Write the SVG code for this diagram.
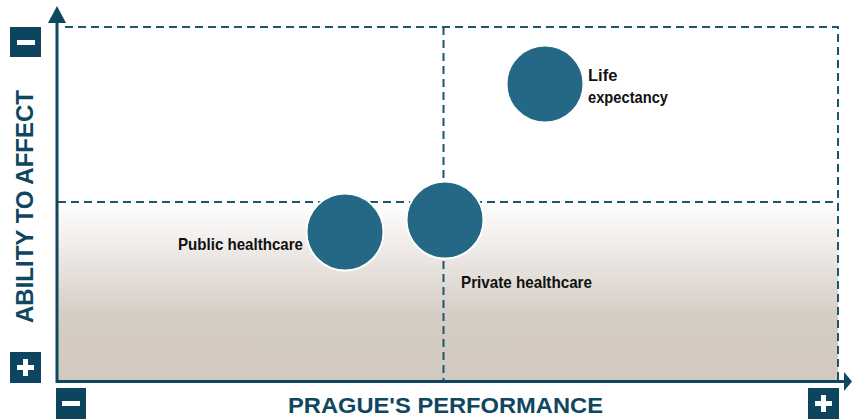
<svg xmlns="http://www.w3.org/2000/svg" width="852" height="419" viewBox="0 0 852 419">
<defs>
<linearGradient id="bg" x1="0" y1="0" x2="0" y2="1">
<stop offset="0" stop-color="#ffffff"/>
<stop offset="0.65" stop-color="#d5ccc4"/>
<stop offset="1" stop-color="#d3c9c1"/>
</linearGradient>
<style>
.dash{stroke:#1d5670;stroke-width:2;stroke-dasharray:8 5;fill:none}
.axis{stroke:#0f4660;stroke-width:3;fill:none}
.box{fill:#0d4560}
.sym{fill:#ffffff}
.bubble{fill:#246886;stroke:#ffffff;stroke-width:2}
.lbl{font-family:"Liberation Sans",Arial,sans-serif;font-weight:bold;font-size:16.5px;fill:#111111}
.title{font-family:"Liberation Sans",Arial,sans-serif;font-weight:bold;fill:#0f4660}
</style>
</defs>
<rect x="0" y="0" width="852" height="419" fill="#ffffff"/>
<rect x="57" y="202" width="781" height="178" fill="url(#bg)"/>
<g id="connectors">
<path class="dash" d="M65 27 H838 V380"/>
<path class="dash" d="M58 202 H838"/>
<path class="dash" d="M443.5 27 V380"/>
<path class="axis" d="M57 22 V381.5 H846"/>
<polygon points="57,6 48,23 66,23" fill="#0f4660"/>
<polygon points="852,381.5 844,372 844,391" fill="#0f4660"/>
</g>
<g id="minus-y">
<rect class="box" x="10" y="27" width="31" height="30"/>
<rect class="sym" x="17" y="40" width="18" height="5"/>
</g>
<g id="plus-y">
<rect class="box" x="10" y="352" width="31" height="31"/>
<rect class="sym" x="17" y="365" width="17" height="5"/>
<rect class="sym" x="23" y="359" width="5" height="17"/>
</g>
<g id="minus-x">
<rect class="box" x="56" y="388" width="30" height="31"/>
<rect class="sym" x="62" y="401" width="18" height="5"/>
</g>
<g id="plus-x">
<rect class="box" x="808" y="388" width="31" height="31"/>
<rect class="sym" x="815" y="401" width="17" height="5"/>
<rect class="sym" x="821" y="395" width="5" height="17"/>
</g>
<g id="y-title">
<text class="title" font-size="23" transform="translate(33,206.5) rotate(-90)" text-anchor="middle" textLength="233" lengthAdjust="spacingAndGlyphs">ABILITY TO AFFECT</text>
</g>
<g id="x-title">
<text class="title" font-size="22" x="445.5" y="413" text-anchor="middle" textLength="315" lengthAdjust="spacingAndGlyphs">PRAGUE'S PERFORMANCE</text>
</g>
<g id="life-expectancy">
<circle class="bubble" cx="545" cy="84" r="38.5"/>
<text class="lbl" x="588" y="81">Life</text>
<text class="lbl" x="588" y="103" textLength="80" lengthAdjust="spacingAndGlyphs">expectancy</text>
</g>
<g id="public-healthcare">
<circle class="bubble" cx="345" cy="232" r="38.5"/>
<text class="lbl" x="178" y="250" textLength="125" lengthAdjust="spacingAndGlyphs">Public healthcare</text>
</g>
<g id="private-healthcare">
<circle class="bubble" cx="445" cy="220" r="38.5"/>
<text class="lbl" x="461" y="288" textLength="131" lengthAdjust="spacingAndGlyphs">Private healthcare</text>
</g>
</svg>
